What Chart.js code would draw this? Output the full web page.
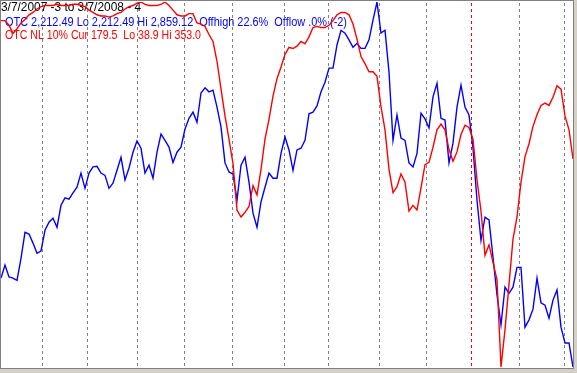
<!DOCTYPE html>
<html>
<head>
<meta charset="utf-8">
<script src="https://cdn.jsdelivr.net/npm/chart.js@4.4.0/dist/chart.umd.min.js"></script>
<style>
  html, body { margin: 0; padding: 0; background: #d4d0c8; overflow: hidden; }
  #frame { position: absolute; left: 0; top: 0; width: 572px; height: 367px; border: 1px solid #808080; background: #fff; }
  #chart { display: block; }
</style>
</head>
<body>
<div id="frame"><canvas id="chart" width="572" height="367"></canvas></div>
<script>
// OTC composite, sampled about every 2.5 trading days from 3/7/2007 to 3/7/2008
const otcValues = [
  2370, 2393, 2372, 2370, 2366, 2405, 2451, 2448, 2432, 2414, 2418, 2455,
  2469, 2476, 2460, 2499, 2512, 2510, 2521, 2531, 2556, 2529, 2556, 2567,
  2568, 2556, 2552, 2529, 2538, 2561, 2584, 2544, 2565, 2593, 2613, 2600,
  2556, 2570, 2547, 2593, 2625, 2614, 2602, 2575, 2593, 2602, 2634, 2653,
  2664, 2646, 2698, 2707, 2700, 2703, 2673, 2638, 2574, 2558, 2554, 2508,
  2570, 2584, 2540, 2485, 2460, 2505, 2531, 2556, 2547, 2547, 2591, 2620,
  2597, 2561, 2597, 2600, 2614, 2661, 2664, 2675, 2700, 2717, 2742, 2742,
  2783, 2809, 2804, 2792, 2779, 2786, 2777, 2777, 2792, 2827, 2859, 2804,
  2809, 2735, 2614, 2659, 2618, 2614, 2574, 2567, 2591, 2662, 2652, 2636,
  2691, 2715, 2653, 2650, 2574, 2609, 2673, 2712, 2673, 2659, 2600, 2508,
  2437, 2478, 2473, 2407, 2340, 2287, 2354, 2343, 2354, 2389, 2389, 2283,
  2296, 2315, 2370, 2326, 2322, 2299, 2331, 2349, 2283, 2255, 2255, 2212.49
];

// OTC NL 10% indicator on the same dates
const nlValues = [
  337, 337, 333, 326, 330, 335, 338, 342, 344, 347, 349, 350,
  350, 350, 351, 350, 350, 350, 351, 351, 350, 349, 346, 344,
  342, 341, 341, 340, 341, 343, 344, 347, 349, 350, 352, 353,
  351, 350, 350, 350, 351, 353, 350, 346, 342, 341, 341, 343,
  343, 335, 334, 332, 325, 319, 302, 278, 255, 235, 214, 174,
  168, 172, 177, 195, 187, 209, 235, 252, 272, 287, 297, 308,
  314, 313, 315, 319, 317, 323, 331, 332, 331, 331, 333, 337,
  342, 344, 344, 342, 334, 321, 306, 300, 293, 293, 289, 263,
  243, 209, 189, 194, 205, 198, 173, 178, 174, 193, 213, 215,
  228, 243, 248, 243, 226, 216, 224, 239, 247, 245, 235, 200,
  173, 135, 144, 129, 114, 39, 71, 110, 149, 168, 198, 220,
  231, 246, 256, 264, 266, 264, 271, 281, 278, 255, 243, 218
];

const otcLo = 2212.49, otcHi = 2859.12, otcCur = 2212.49;
const nlLo = 38.9, nlHi = 353.0, nlCur = 179.5;

// month boundaries, as sample positions
const monthNames = ['Apr', 'May', 'Jun', 'Jul', 'Aug', 'Sep', 'Oct', 'Nov', 'Dec', 'Jan', 'Feb', 'Mar'];
const monthStarts = [10.25, 21.5, 34, 45.75, 57.75, 70.75, 81.75, 94.5, 106.25, 117.5, 129.5, 140.75];

const sampleLabels = otcValues.map((v, i) => i);

function fmt(n) {
    return n.toLocaleString('en-US', { minimumFractionDigits: 2, maximumFractionDigits: 2 });
}

const headerLines = [
    { text: '3/7/2007 -3 to 3/7/2008 - 4', color: '#000000', x: 0, y: 10, w: 140 },
    { text: 'OTC ' + fmt(otcCur) + ' Lo ' + fmt(otcLo) + ' Hi ' + fmt(otcHi) + '  Offhigh 22.6%  Offlow .0% (-2)', color: '#0000ff', x: 4, y: 25, w: 342 },
    { text: 'OTC NL 10% Cur ' + nlCur.toFixed(1) + '  Lo ' + nlLo.toFixed(1) + ' Hi ' + nlHi.toFixed(1), color: '#ff0000', x: 4, y: 38, w: 196 }
];

const headerPlugin = {
    id: 'header',
    beforeDatasetsDraw(chart) {
        const ctx = chart.ctx;
        ctx.save();
        ctx.font = '12px "Liberation Sans", Arial, sans-serif';
        ctx.textBaseline = 'alphabetic';
        headerLines.forEach(l => {
            ctx.fillStyle = l.color;
            ctx.fillText(l.text, l.x, l.y, l.w);
        });
        ctx.restore();
    }
};

const monthLinesPlugin = {
    id: 'monthLines',
    beforeDatasetsDraw(chart) {
        const ctx = chart.ctx;
        const x = chart.scales.x;
        ctx.save();
        ctx.lineWidth = 1;
        ctx.setLineDash([3, 3]);
        monthStarts.forEach((pos, i) => {
            const px = Math.round(x.getPixelForValue(pos)) + 0.5;
            ctx.strokeStyle = monthNames[i] === 'Jan' ? '#ff0000' : '#808080';
            ctx.beginPath();
            ctx.moveTo(px, 2);
            ctx.lineTo(px, chart.height);
            ctx.stroke();
        });
        ctx.restore();
    }
};

const ctx = document.getElementById('chart').getContext('2d');
new Chart(ctx, {
    type: 'line',
    data: {
        labels: sampleLabels,
        datasets: [
            {
                label: 'OTC NL 10%',
                data: nlValues,
                borderColor: '#ff0000',
                yAxisID: 'yNl'
            },
            {
                label: 'OTC',
                data: otcValues,
                borderColor: '#0000ff',
                yAxisID: 'yOtc'
            }
        ]
    },
    options: {
        responsive: false,
        animation: false,
        events: [],
        layout: { padding: { top: 1, bottom: 1, left: 0, right: 0 } },
        plugins: {
            legend: { display: false },
            tooltip: { enabled: false }
        },
        elements: {
            point: { radius: 0 },
            line: { tension: 0, borderWidth: 1.4, fill: false }
        },
        scales: {
            x: { display: false },
            yOtc: { display: false, min: otcLo, max: otcHi },
            yNl: { display: false, min: nlLo, max: nlHi }
        }
    },
    plugins: [headerPlugin, monthLinesPlugin]
});
</script>
</body>
</html>
